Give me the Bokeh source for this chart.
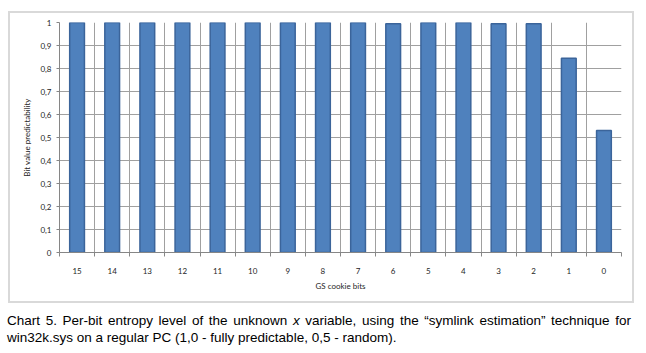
from bokeh.plotting import figure
from bokeh.models import Range1d, FixedTicker, Div
from bokeh.layouts import column
from bokeh.embed import file_html
from bokeh.resources import INLINE

bits = ["15", "14", "13", "12", "11", "10", "9", "8", "7", "6", "5", "4", "3", "2", "1", "0"]
predictability = [1.0, 1.0, 1.0, 1.0, 1.0, 1.0, 1.0, 1.0, 1.0, 0.995, 1.0, 1.0, 0.995, 0.995, 0.845, 0.53]
y_ticks = [0, 0.1, 0.2, 0.3, 0.4, 0.5, 0.6, 0.7, 0.8, 0.9, 1]
y_tick_labels = ["0", "0,1", "0,2", "0,3", "0,4", "0,5", "0,6", "0,7", "0,8", "0,9", "1"]
caption = ("Chart 5. Per-bit entropy level of the unknown <i>x</i> variable, using the \u201csymlink estimation\u201d "
           "technique for win32k.sys on a regular PC (1,0 - fully predictable, 0,5 - random).")

n = len(bits)
xs = [i + 0.5 for i in range(n)]
bounds = list(range(n + 1))

p = figure(width=622, height=288, output_backend="svg", toolbar_location=None,
           x_range=Range1d(0, n), y_range=Range1d(0, 1),
           min_border_left=49, min_border_right=11, min_border_top=9, min_border_bottom=49)
p.margin = (13, 0, 0, 10)
p.styles = {"outline": "2px solid #d9d9d9", "outline-offset": "0px",
            "box-shadow": "0 0 0 2px #d9d9d9"}
p.outline_line_color = None
p.background_fill_color = "white"
p.border_fill_color = "white"

p.vbar(x=xs, top=predictability, width=0.42, fill_color="#4F81BD",
       line_color="#3B649A", line_width=1.5)

grid_color = "#A0A0A0"
axis_color = "#868686"
font = "Lato"

# x axis
xa = p.xaxis[0]
xa.ticker = FixedTicker(ticks=xs, minor_ticks=bounds)
xa.major_label_overrides = {x: b for x, b in zip(xs, bits)}
xa.major_tick_line_color = None
xa.minor_tick_line_color = axis_color
xa.minor_tick_in = 0
xa.minor_tick_out = 4
xa.axis_line_color = axis_color
xa.major_label_standoff = 9
xa.major_label_text_font = font
xa.major_label_text_font_size = "8px"
xa.major_label_text_color = "#262626"
xa.axis_label = "GS cookie bits"
xa.axis_label_text_font = font
xa.axis_label_text_font_size = "8px"
xa.axis_label_text_font_style = "normal"
xa.axis_label_text_color = "#262626"
xa.axis_label_standoff = 4

p.xgrid.grid_line_color = None
p.xgrid.minor_grid_line_color = grid_color

# y axis
ya = p.yaxis[0]
ya.ticker = FixedTicker(ticks=y_ticks)
ya.major_label_overrides = {t: l for t, l in zip(y_ticks, y_tick_labels)}
ya.axis_line_color = axis_color
ya.major_tick_line_color = axis_color
ya.major_tick_in = 0
ya.major_tick_out = 3
ya.minor_tick_line_color = None
ya.major_label_standoff = 5
ya.major_label_text_font = font
ya.major_label_text_font_size = "8px"
ya.major_label_text_color = "#262626"
ya.axis_label = "Bit value predictability"
ya.axis_label_text_font = font
ya.axis_label_text_font_size = "8px"
ya.axis_label_text_font_style = "normal"
ya.axis_label_text_color = "#262626"
ya.axis_label_standoff = 5
p.ygrid.grid_line_color = grid_color

div = Div(text=caption, width=624, margin=(11, 0, 0, 7),
          styles={"font-family": "'Liberation Sans', Arial, sans-serif", "font-size": "13.5px",
                  "line-height": "17px", "text-align": "justify", "color": "#000"})

layout = column(p, div)
open("out.html", "w").write(file_html(layout, INLINE))
